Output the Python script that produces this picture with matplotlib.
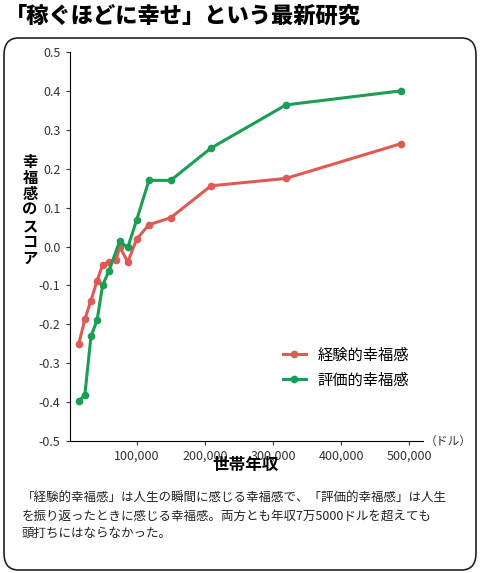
import matplotlib
matplotlib.use("Agg")
import matplotlib.pyplot as plt
from matplotlib.patches import FancyBboxPatch

plt.rcParams['font.family'] = ['Noto Sans CJK JP', 'DejaVu Sans']

x_red = [15000, 24000, 33000, 42000, 50000, 59000, 70000, 75000, 87000, 100000, 118000, 150000, 209000, 319000, 487000]
y_red = [-0.251, -0.187, -0.139, -0.088, -0.047, -0.040, -0.035, 0.0, -0.040, 0.019, 0.056, 0.074, 0.156, 0.175, 0.264]
x_green = [15000, 24000, 33000, 42000, 50000, 59000, 75000, 87000, 100000, 118000, 150000, 209000, 319000, 487000]
y_green = [-0.398, -0.381, -0.231, -0.189, -0.100, -0.064, 0.013, -0.002, 0.068, 0.170, 0.170, 0.253, 0.364, 0.400]
yticks = [0.5, 0.4, 0.3, 0.2, 0.1, 0.0, -0.1, -0.2, -0.3, -0.4, -0.5]
ytick_labels = ['0.5', '0.4', '0.3', '0.2', '0.1', '0.0', '-0.1', '-0.2', '-0.3', '-0.4', '-0.5']
xticks = [100000, 200000, 300000, 400000, 500000]
xtick_labels = ['100,000', '200,000', '300,000', '400,000', '500,000']

fig = plt.figure(figsize=(4.8, 5.73), dpi=100)
fig.patch.set_facecolor('white')
box = FancyBboxPatch((4/480, 3/573), 472/480, 532/573, boxstyle="round,pad=0,rounding_size=0.03",
                     transform=fig.transFigure, facecolor='none', edgecolor='#222222', linewidth=1.2, zorder=-1)
fig.patches.append(box)
fig.text(0.01, 0.972, '「稼ぐほどに幸せ」という最新研究', fontsize=16, fontweight='heavy', va='center', ha='left')

ax = fig.add_axes([69.5/480, 1 - 441/573, (423 - 69.5)/480, (441 - 52)/573])
ax.patch.set_alpha(0)
ax.plot(x_red, y_red, color='#e05a55', lw=2.2, marker='o', ms=4.5, label='経験的幸福感')
ax.plot(x_green, y_green, color='#1a9e55', lw=2.2, marker='o', ms=4.5, label='評価的幸福感')
ax.set_xlim(1500, 520000)
ax.set_ylim(-0.5, 0.5)
ax.set_yticks(yticks)
ax.set_yticklabels(ytick_labels)
ax.set_xticks(xticks)
ax.set_xticklabels(xtick_labels)
ax.tick_params(labelsize=9, length=3, color='#333333', labelcolor='#333333')
for s in ['top', 'right']:
    ax.spines[s].set_visible(False)
ax.text(1.005, 0.0, '（ドル）', transform=ax.transAxes, fontsize=8.5, va='center', ha='left', color='#333333')
ax.legend(loc='lower right', bbox_to_anchor=(1.0, 0.1), frameon=False, fontsize=11, handlelength=1.5)

fig.text(30/480, 1 - 210/573, '\n'.join('幸福感のスコア'), fontsize=11, fontweight='bold', ha='center', va='center', linespacing=1.0)
fig.text(246/480, 1 - 465/573, '世帯年収', fontsize=12, fontweight='bold', ha='center', va='center')
fig.text(22/480, 1 - 516/573,
         '「経験的幸福感」は人生の瞬間に感じる幸福感で、「評価的幸福感」は人生\nを振り返ったときに感じる幸福感。両方とも年収7万5000ドルを超えても\n頭打ちにはならなかった。',
         fontsize=9, ha='left', va='center', linespacing=1.45, color='#222222')
fig.savefig('out.png', dpi=100)
